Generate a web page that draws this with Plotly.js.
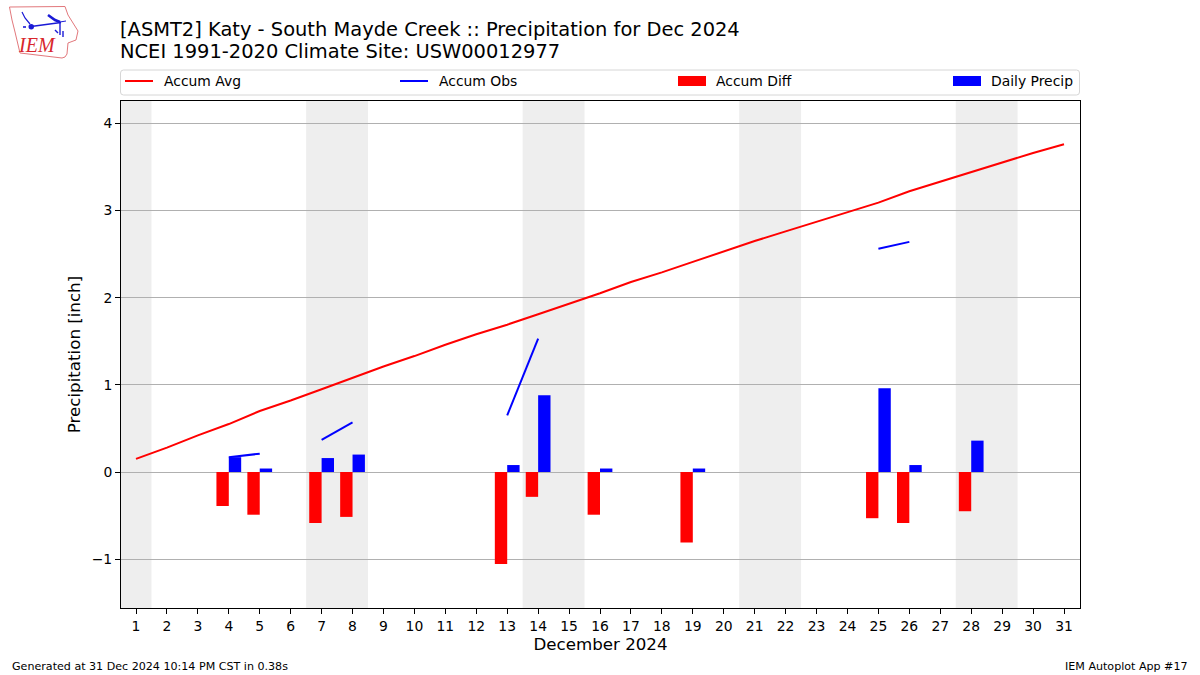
<!DOCTYPE html>
<html>
<head>
<meta charset="utf-8">
<script src="https://cdn.plot.ly/plotly-3.0.1.min.js"></script>
<style>html,body{margin:0;padding:0;background:#fff}#chart{width:1200px;height:675px}</style>
</head>
<body>
<div id="chart"></div>
<script>
const days = [1,2,3,4,5,6,7,8,9,10,11,12,13,14,15,16,17,18,19,20,21,22,23,24,25,26,27,28,29,30,31];
const accumAvg = [0.15,0.28,0.42,0.55,0.70,0.82,0.95,1.08,1.21,1.33,1.46,1.58,1.69,1.81,1.93,2.05,2.18,2.29,2.41,2.53,2.65,2.76,2.87,2.98,3.09,3.22,3.33,3.44,3.55,3.66,3.76];
const accumObs = [null,null,null,0.17,0.21,null,0.37,0.57,null,null,null,null,0.65,1.53,null,1.57,null,null,1.61,null,null,null,null,null,2.56,2.64,null,3.00,null,null,null];
const precipDays = [4,5,7,8,13,14,16,19,25,26,28];
const accumDiff = [-0.39,-0.49,-0.585,-0.515,-1.055,-0.285,-0.49,-0.81,-0.53,-0.585,-0.45];
const dailyPrecip = [0.17,0.04,0.16,0.20,0.08,0.88,0.04,0.04,0.96,0.08,0.36];
const weekends = [[0.5,1.5],[6.5,8.5],[13.5,15.5],[20.5,22.5],[27.5,29.5]];
const titleText = "[ASMT2] Katy - South Mayde Creek :: Precipitation for Dec 2024<br>NCEI 1991-2020 Climate Site: USW00012977";
const xTitle = "December 2024";
const yTitle = "Precipitation [inch]";
const footerLeft = "Generated at 31 Dec 2024 10:14 PM CST in 0.38s";
const footerRight = "IEM Autoplot App #17";

const L=121,R=1080,T=101,B=608;
const fx=p=>(p-L)/(R-L), fy=p=>(B-p)/(B-T);
const pathOf=pts=>pts.map((p,i)=>(i?'L':'M')+fx(p[0]).toFixed(5)+','+fy(p[1]).toFixed(5)).join(' ');
const paperShape=(pts,color,width,fill)=>({type:'path',xref:'paper',yref:'paper',layer:'above',path:pathOf(pts),
  line:{color:color,width:width},fillcolor:fill||'rgba(0,0,0,0)'});

const logoOutline=[[9.5,7],[65,6.5],[68,15],[78,31],[76,40],[68,43],[67,54],[65,57],[62,58],[20,53],[15,32],[12,20],[9.5,7]];
const shapes=[];
weekends.forEach(w=>shapes.push({type:'rect',xref:'x',yref:'paper',x0:w[0],x1:w[1],y0:0,y1:1,layer:'below',
  fillcolor:'#eeeeee',line:{width:0}}));
// legend frame
const x0=fx(120.5),x1=fx(1079.5),yA=fy(70),yB=fy(95),dx=3/959,dy=3/507;
shapes.push({type:'path',xref:'paper',yref:'paper',layer:'above',line:{color:'#d6d6d6',width:1},fillcolor:'rgba(0,0,0,0)',
  path:`M${x0+dx},${yA} L${x1-dx},${yA} Q${x1},${yA} ${x1},${yA-dy} L${x1},${yB+dy} Q${x1},${yB} ${x1-dx},${yB} L${x0+dx},${yB} Q${x0},${yB} ${x0},${yB+dy} L${x0},${yA-dy} Q${x0},${yA} ${x0+dx},${yA} Z`});
// logo
shapes.push(paperShape(logoOutline,'#e2787c',1));
shapes.push(paperShape([[31,26.5],[61,22.5]],'#1a1ad6',1.6));
shapes.push(paperShape([[48,15],[55,20],[60,22]],'#1a1ad6',2.6));
shapes.push(paperShape([[60,22],[60,35]],'#1a1ad6',1.4));
shapes.push(paperShape([[22,12],[25,18],[30,24]],'#1a1ad6',1.2));
shapes.push(paperShape([[60,22],[66,21]],'#1a1ad6',1));
shapes.push(paperShape([[55,30],[58,33]],'#1a1ad6',1.4));
shapes.push(paperShape([[63,31],[63,37]],'#1a1ad6',1.4));
shapes.push(paperShape([[23,27],[26,27]],'#1a1ad6',1.6));
shapes.push({type:'circle',xref:'paper',yref:'paper',layer:'above',x0:fx(28.5),x1:fx(34),y0:fy(29.5),y1:fy(24),fillcolor:'#1a1ad6',line:{width:0}});

const leg=(x)=>({x:fx(x),xanchor:'left',y:fy(81.5),yanchor:'middle',bgcolor:'rgba(0,0,0,0)',borderwidth:0,
  orientation:'v',itemwidth:30,font:{family:'DejaVu Sans',size:13.9,color:'#000'},tracegroupgap:0});

const traces=[
 {type:'scatter',mode:'lines',x:days,y:accumAvg,name:'Accum Avg',line:{color:'#ff0000',width:2},legend:'legend',connectgaps:false},
 {type:'scatter',mode:'lines',x:days,y:accumObs,name:'Accum Obs',line:{color:'#0000ff',width:2},legend:'legend2',connectgaps:false},
 {type:'bar',x:precipDays,y:accumDiff,name:'Accum Diff',width:0.4,offset:-0.4,marker:{color:'#ff0000',line:{width:0}},legend:'legend3'},
 {type:'bar',x:precipDays,y:dailyPrecip,name:'Daily Precip',width:0.4,offset:0,marker:{color:'#0000ff',line:{width:0}},legend:'legend4'}
];

const axisFont={family:'DejaVu Sans',size:13.9,color:'#000'};
const layout={
 width:1200,height:675,
 margin:{l:L,r:1200-R,t:T,b:675-B,pad:0},
 paper_bgcolor:'#fff',plot_bgcolor:'rgba(0,0,0,0)',
 font:{family:'DejaVu Sans',color:'#000'},
 barmode:'overlay',
 showlegend:true,
 title:{text:titleText,x:0.1,xref:'container',xanchor:'left',y:0.947,yref:'container',yanchor:'top',
   font:{family:'DejaVu Sans',size:19.45,color:'#000'}},
 xaxis:{range:[0.515,31.517],tickmode:'array',tickvals:days,ticktext:days.map(String),ticks:'outside',ticklen:5,tickwidth:1,tickcolor:'#000',
   showgrid:false,zeroline:false,showline:true,linecolor:'#000',linewidth:1,mirror:true,tickfont:axisFont,
   title:{text:xTitle,font:{family:'DejaVu Sans',size:16.67,color:'#000'},standoff:5},automargin:false},
 yaxis:{range:[-1.56,4.256],tickvals:[-1,0,1,2,3,4],ticks:'outside',ticklen:5,tickwidth:1,tickcolor:'#000',
   showgrid:true,gridcolor:'#b0b0b0',gridwidth:1,zeroline:true,zerolinecolor:'#b0b0b0',zerolinewidth:1,
   showline:true,linecolor:'#000',linewidth:1,mirror:true,tickfont:axisFont,
   title:{text:yTitle,font:{family:'DejaVu Sans',size:16.67,color:'#000'},standoff:6},automargin:false},
 legend:leg(120),legend2:leg(395),legend3:leg(672),legend4:leg(947),
 shapes:shapes,
 annotations:[
  {text:footerLeft,xref:'paper',yref:'paper',x:fx(10),y:fy(666),xanchor:'left',yanchor:'middle',showarrow:false,font:{family:'DejaVu Sans',size:11.1,color:'#000'}},
  {text:footerRight,xref:'paper',yref:'paper',x:fx(1190),y:fy(666),xanchor:'right',yanchor:'middle',showarrow:false,font:{family:'DejaVu Sans',size:11.1,color:'#000'}},
  {text:'<i>IEM</i>',xref:'paper',yref:'paper',x:fx(37),y:fy(45),xanchor:'center',yanchor:'middle',showarrow:false,font:{family:'Liberation Serif',size:20,color:'#d8262c'}}
 ]
};
Plotly.newPlot('chart',traces,layout,{displayModeBar:false,responsive:false}).then(gd=>{
  // matplotlib-style legend keys: wider bar swatches, 28px lines, wider key/label gap
  gd.querySelectorAll('.legendpoints path').forEach(p=>{
    const d=p.getAttribute('d')||'';
    if(d.indexOf('M6,6')===0){p.setAttribute('d','M14,5H-14V-5H14Z');}
  });
  gd.querySelectorAll('.legendlines path').forEach(p=>{p.setAttribute('d','M5,0h28');});
  gd.querySelectorAll('.legendtext,.legend2text,.legend3text,.legend4text').forEach(t=>{
    t.setAttribute('transform','translate(4,0)');
  });
  const lines=gd.querySelectorAll('.gtitle tspan.line');
  if(lines.length>1){lines[1].setAttribute('dy','1.13em');}
});
</script>
</body>
</html>
